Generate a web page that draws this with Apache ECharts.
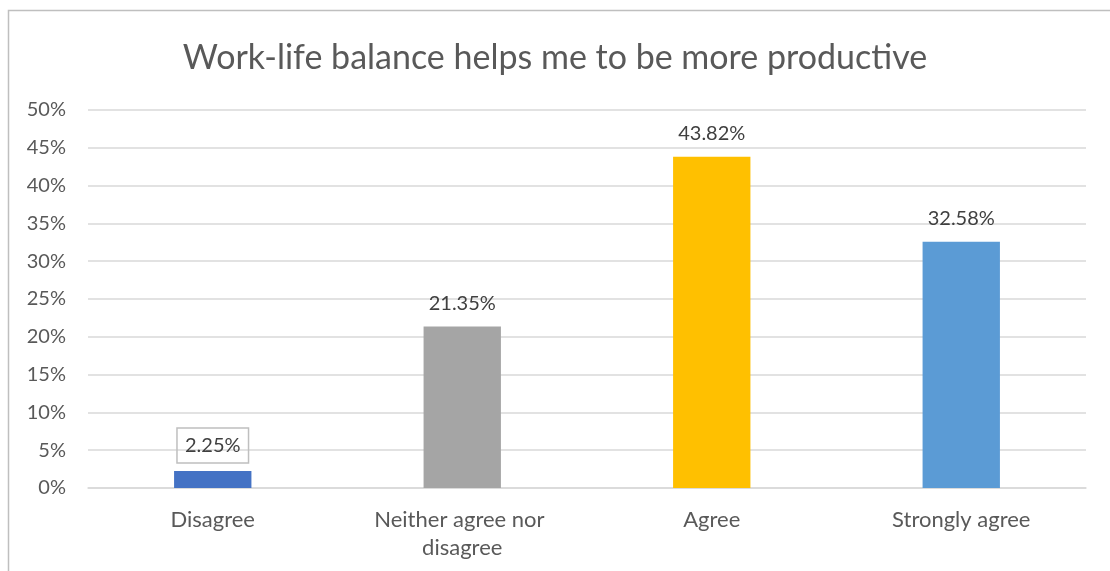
<!DOCTYPE html>
<html><head><meta charset="utf-8">
<script src="https://cdn.jsdelivr.net/npm/echarts@6/dist/echarts.min.js"></script>
<style>html,body{margin:0;padding:0;background:#fff}#c{width:1110px;height:571px}</style>
</head><body><div id="c"></div>
<script>
const titleText = 'Work-life balance helps me to be more productive';
const categories = ['Disagree', 'Neither agree nor disagree', 'Agree', 'Strongly agree'];
const values = [2.25, 21.35, 43.82, 32.58];
const colors = ['#4472C4', '#A5A5A5', '#FFC000', '#5B9BD5'];
const font = 'Lato, "Open Sans", sans-serif';
const chart = echarts.init(document.getElementById('c'), null, {renderer: 'canvas'});
chart.setOption({
  animation: false,
  backgroundColor: '#fff',
  graphic: [{type: 'polyline', shape: {points: [[8.5, 571], [8.5, 10.5], [1110, 10.5]]}, style: {stroke: '#BFBFBF', lineWidth: 1.5, fill: null}}],
  title: {text: titleText, left: 'center', top: 36, textStyle: {fontFamily: font, fontSize: 34, fontWeight: 'normal', color: '#595959'}},
  grid: {left: 88, right: 24, top: 110, bottom: 83, containLabel: false},
  xAxis: {type: 'category', data: categories,
    axisLine: {lineStyle: {color: '#D9D9D9', width: 1.5}}, axisTick: {show: false},
    axisLabel: {interval: 0, fontFamily: font, fontSize: 22, color: '#595959', margin: 18, width: 215, overflow: 'break', lineHeight: 28}},
  yAxis: {type: 'value', min: 0, max: 50, interval: 5,
    axisLabel: {formatter: '{value}%', fontFamily: font, fontSize: 20, color: '#595959', margin: 22},
    axisLine: {show: false}, axisTick: {show: false},
    splitLine: {lineStyle: {color: '#D9D9D9', width: 1.5}}},
  series: [{type: 'bar', barWidth: '31%',
    data: values.map((v, i) => {
      const d = {value: v, itemStyle: {color: colors[i]}};
      if (i === 0) d.label = {borderColor: '#BFBFBF', borderWidth: 1.5, padding: [8, 8, 7, 8], distance: 8};
      return d;
    }),
    label: {show: true, position: 'top', distance: 13, formatter: p => p.value.toFixed(2) + '%', fontFamily: font, fontSize: 20, color: '#404040'}}]
});
</script></body></html>
